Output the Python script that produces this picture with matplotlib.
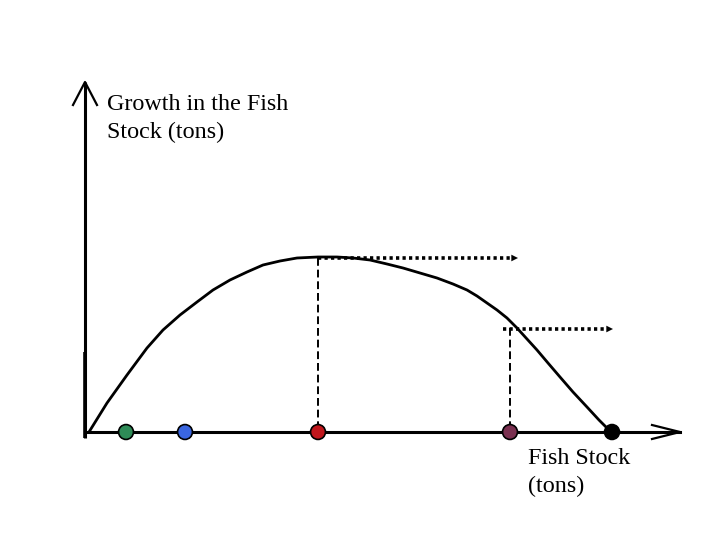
import matplotlib
matplotlib.use('Agg')
import numpy as np
import matplotlib.pyplot as plt

# Curve (pixel coords, y grows downward)
curve_x = [89, 107, 127, 147, 163, 180, 197, 213, 230, 247, 263, 280, 297, 318,
           337, 353, 370, 387, 403, 420, 437, 453, 467, 477, 487, 497, 507, 517,
           527, 537, 548, 560, 573, 587, 599, 611]
curve_y = [432, 403, 375, 348, 330, 315, 302, 290, 280, 272, 265, 261, 258, 257,
           257, 258, 260, 264, 268, 273, 278, 284, 290, 296, 303, 310, 318, 328,
           339, 350, 363, 377, 392, 407, 420, 432]

# Dots along the fish stock axis
dot_x = [126, 185, 318, 510, 612]
dot_colors = ['#2e8b57', '#3a66e0', '#c0161c', '#7a3050', '#000000']

# Dashed verticals and dotted arrows
vline_x = [318, 510]
vline_top = [258, 328]
arrow_start = [318, 503]
arrow_end = [518, 613]
arrow_y = [258, 329]

axis_y0 = 432
axis_x0 = 85

fig = plt.figure(figsize=(7.2, 5.4), dpi=100)
ax = fig.add_axes([0, 0, 1, 1])
ax.set_xlim(0, 720)
ax.set_ylim(540, 0)
ax.axis('off')

# axes
ax.plot([axis_x0, axis_x0], [438, 82], color='black', lw=2.2, solid_capstyle='butt')
ax.plot([axis_x0, axis_x0], [438, 352], color='black', lw=2.6, solid_capstyle='butt')
ax.plot([73, axis_x0, 97], [105, 82, 105], color='black', lw=1.6)
ax.plot([axis_x0, 680], [axis_y0, axis_y0], color='black', lw=2.2)
ax.plot([652, 680, 652], [425, axis_y0, 439], color='black', lw=1.6)

# curve
ax.plot(curve_x, curve_y, color='black', lw=2, solid_joinstyle='round')

# dashed verticals
for xv, yt in zip(vline_x, vline_top):
    ax.plot([xv, xv], [yt, axis_y0], color='black', lw=1.4, ls=(0, (4, 2)))

# dotted arrows
for xs, xe, ya in zip(arrow_start, arrow_end, arrow_y):
    ax.plot([xs, xe - 7], [ya, ya], color='black', lw=2.6, ls=(0, (0.9, 0.9)))
    ax.annotate('', xy=(xe, ya), xytext=(xe - 9, ya),
                arrowprops=dict(arrowstyle='-|>', color='black', lw=0,
                                mutation_scale=12, shrinkA=0, shrinkB=0))

# dots
ax.scatter(dot_x, [axis_y0] * len(dot_x), s=115, c=dot_colors,
           edgecolors='black', linewidths=1.2, zorder=5)

ax.text(107, 94, 'Growth in the Fish\nStock (tons)', family='Liberation Serif',
        fontsize=17.4, va='top', ha='left', linespacing=1.45)
ax.text(528, 448, 'Fish Stock\n(tons)', family='Liberation Serif',
        fontsize=17.4, va='top', ha='left', linespacing=1.45)

fig.savefig('out.png', dpi=100)
